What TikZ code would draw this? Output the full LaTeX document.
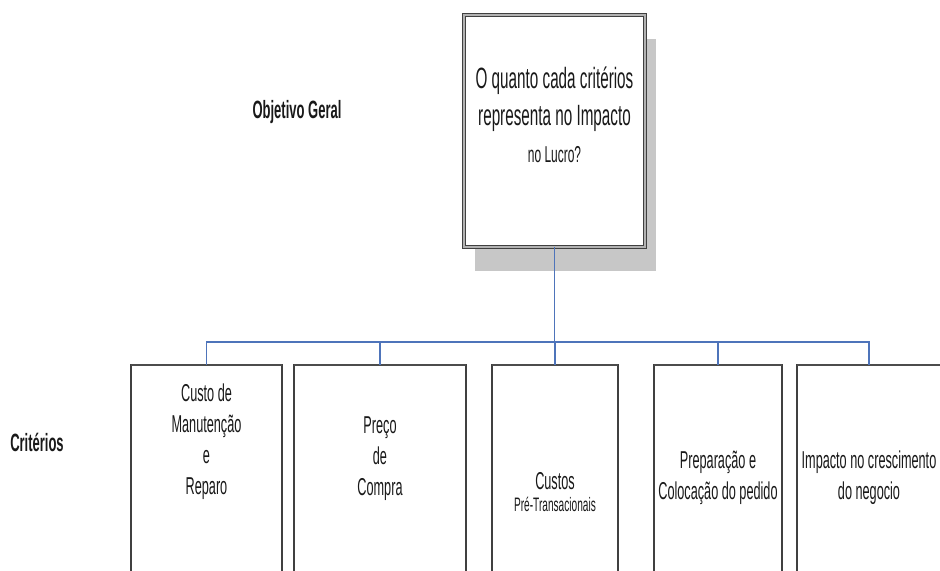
\documentclass[tikz,border=0pt]{standalone}
\usepackage{fontspec}
\setmainfont[FakeStretch=0.52]{Liberation Sans}
\usepackage{xcolor}
\usepackage{tikz}
\usetikzlibrary{positioning,shadows}
\definecolor{connblue}{RGB}{78,116,186}

\begin{document}
\begin{tikzpicture}[
    x=0.75pt, y=-0.75pt,
    goal/.style={draw=black!75, double=black!30, double distance=1.4pt, line width=0.9pt,
                 fill=white, minimum width=135.75pt, minimum height=174pt, outer sep=0pt,
                 drop shadow={shadow xshift=8.25pt, shadow yshift=-18pt, fill=black!22, opacity=1}},
    crit/.style={draw=black!75, line width=1pt, fill=white, minimum height=180pt,
                 inner sep=0pt, outer sep=0pt},
    critop/.style={draw=black!70, line width=2pt},
    crittext/.style={align=center, inner sep=0pt, text=black!90,
                     font=\fontsize{18.3}{23.25}\selectfont},
    lbl/.style={font=\fontsize{18.75}{22}\selectfont\bfseries, text=black!90},
    conn/.style={draw=connblue, line width=0.8pt}
  ]
    \clip (0,0) rectangle (940,571);
    \node[goal] (goal) at (554.5,131) {};
    \node[align=center, inner sep=0pt, text=black!90, font=\fontsize{22}{27.75}\selectfont]
      (goaltext) at (554.5,115) {O quanto cada critérios\\representa no Impacto\\
      {\fontsize{17.25}{20}\selectfont no Lucro?}};
    \node[lbl] (objlbl) at (297,112) {Objetivo Geral};
    \node[lbl] (critlbl) at (37,442) {Critérios};

    \node[crit, minimum width=113.25pt] (b1) at (206.5,485) {};
    \node[crit, minimum width=129pt, right=9pt of b1] (b2) {};
    \node[crit, minimum width=94.5pt, right=19.5pt of b2] (b3) {};
    \node[crit, minimum width=96pt, right=27pt of b3] (b4) {};
    \node[crit, minimum width=108pt, right=11.25pt of b4] (b5) {};
    \foreach \b in {b1,b2,b3,b4,b5}
      \draw[critop] (\b.north west) -- (\b.north east);

    \path (b1.north) ++(0,76.5) node[crittext] (t1) {Custo de\\Manutenção\\e\\Reparo};
    \path (b2.north) ++(0,93.5) node[crittext] (t2) {Preço\\de\\Compra};
    \path (b3.north) ++(0,127) node[crittext] (t3) {Custos\\[-7pt]
      {\fontsize{14.6}{16}\selectfont Pré-Transacionais}};
    \path (b4.north) ++(0,113) node[crittext] (t4) {Preparação e\\Colocação do pedido};
    \path (b5.north) ++(0,113) node[crittext] (t5) {Impacto no crescimento\\do negocio};

    \coordinate (bus) at (554.5,342);
    \foreach \b in {b1,b2,b3,b4,b5}
      \draw[conn] (goal.south) |- (bus -| \b.north) -- (\b.north);
  \end{tikzpicture}
\end{document}
